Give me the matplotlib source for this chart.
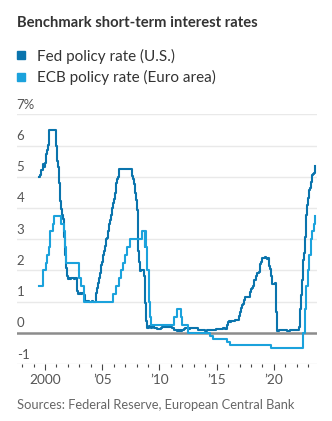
import matplotlib
matplotlib.use("Agg")
import matplotlib.pyplot as plt
import matplotlib.dates as mdates
from matplotlib.lines import Line2D
from matplotlib.transforms import blended_transform_factory, offset_copy
import pandas as pd

# Effective federal funds rate, monthly from July 1999 (percent)
fed_start = "1999-07-01"
fed_rate = [
    4.99, 5.07, 5.22, 5.20, 5.42, 5.30,
    5.45, 5.73, 5.85, 6.02, 6.50, 6.50, 6.50, 6.50, 6.50, 6.50, 6.50, 6.50,
    5.98, 5.49, 5.31, 4.80, 4.21, 3.97, 3.77, 3.65, 3.07, 2.49, 2.09, 1.82,
    1.73, 1.74, 1.73, 1.75, 1.75, 1.75, 1.73, 1.74, 1.75, 1.75, 1.34, 1.24,
    1.24, 1.26, 1.25, 1.26, 1.26, 1.22, 1.01, 1.03, 1.01, 1.01, 1.00, 0.98,
    1.00, 1.01, 1.00, 1.00, 1.00, 1.03, 1.26, 1.43, 1.61, 1.76, 1.93, 2.16,
    2.28, 2.50, 2.63, 2.79, 3.00, 3.04, 3.26, 3.50, 3.62, 3.78, 4.00, 4.16,
    4.29, 4.49, 4.59, 4.79, 4.94, 4.99, 5.24, 5.25, 5.25, 5.25, 5.25, 5.24,
    5.25, 5.26, 5.26, 5.25, 5.25, 5.25, 5.26, 5.02, 4.94, 4.76, 4.49, 4.24,
    3.94, 2.98, 2.61, 2.28, 1.98, 2.00, 2.01, 2.00, 1.81, 0.97, 0.39, 0.16,
    0.15, 0.22, 0.18, 0.15, 0.18, 0.21, 0.16, 0.16, 0.15, 0.12, 0.12, 0.12,
    0.11, 0.13, 0.16, 0.20, 0.20, 0.18, 0.18, 0.19, 0.19, 0.19, 0.19, 0.18,
    0.17, 0.16, 0.14, 0.10, 0.09, 0.09, 0.07, 0.10, 0.08, 0.07, 0.08, 0.07,
    0.08, 0.10, 0.13, 0.14, 0.16, 0.16, 0.16, 0.13, 0.14, 0.16, 0.16, 0.16,
    0.14, 0.15, 0.14, 0.15, 0.11, 0.09, 0.09, 0.08, 0.08, 0.09, 0.08, 0.09,
    0.07, 0.07, 0.08, 0.09, 0.09, 0.10, 0.09, 0.09, 0.09, 0.09, 0.09, 0.12,
    0.11, 0.11, 0.11, 0.12, 0.12, 0.13, 0.13, 0.14, 0.14, 0.12, 0.12, 0.24,
    0.34, 0.38, 0.36, 0.37, 0.37, 0.38, 0.39, 0.40, 0.40, 0.40, 0.41, 0.54,
    0.65, 0.66, 0.79, 0.90, 0.91, 1.04, 1.15, 1.16, 1.15, 1.15, 1.16, 1.30,
    1.41, 1.42, 1.51, 1.69, 1.70, 1.82, 1.91, 1.91, 1.95, 2.19, 2.20, 2.27,
    2.40, 2.40, 2.41, 2.42, 2.39, 2.38, 2.40, 2.13, 2.04, 1.83, 1.55, 1.55,
    1.55, 1.58, 0.65, 0.05, 0.05, 0.08, 0.09, 0.10, 0.09, 0.09, 0.09, 0.09,
    0.09, 0.08, 0.07, 0.07, 0.06, 0.08, 0.10, 0.09, 0.08, 0.08, 0.08, 0.08,
    0.08, 0.08, 0.20, 0.33, 0.77, 1.21, 1.68, 2.33, 2.56, 3.08, 3.78, 4.10,
    4.33, 4.57, 4.65, 4.83, 5.06, 5.08, 5.12, 5.33,
]

# ECB deposit facility rate, dates of change (percent)
ecb_dates = [
    "1999-07-01", "1999-11-05", "2000-02-04", "2000-03-17", "2000-04-28",
    "2000-06-09", "2000-09-01", "2000-10-06", "2001-05-11", "2001-08-31",
    "2001-09-18", "2001-11-09", "2002-12-06", "2003-03-07", "2003-06-06",
    "2005-12-06", "2006-03-08", "2006-06-15", "2006-08-09", "2006-10-11",
    "2006-12-13", "2007-03-14", "2007-06-13", "2008-07-09", "2008-10-08",
    "2008-10-09", "2008-11-12", "2008-12-10", "2009-01-21", "2009-03-11",
    "2009-04-08", "2011-04-13", "2011-07-13", "2011-11-09", "2011-12-14",
    "2012-07-11", "2014-06-11", "2014-09-10", "2015-12-09", "2016-03-16",
    "2019-09-18", "2022-07-27", "2022-09-14", "2022-11-02", "2022-12-21",
    "2023-02-08", "2023-03-22", "2023-05-10", "2023-06-21", "2023-08-02",
]
ecb_rate = [
    1.50, 2.00, 2.25, 2.50, 2.75,
    3.25, 3.50, 3.75, 3.50, 3.25,
    2.75, 2.25, 1.75, 1.50, 1.00,
    1.25, 1.50, 1.75, 2.00, 2.25,
    2.50, 2.75, 3.00, 3.25, 2.75,
    3.25, 2.75, 2.00, 1.00, 0.50,
    0.25, 0.50, 0.75, 0.50, 0.25,
    0.00, -0.10, -0.20, -0.30, -0.40,
    -0.50, 0.00, 0.75, 1.50, 2.00,
    2.50, 3.00, 3.25, 3.50, 3.75,
]

y_ticks = [-1, 0, 1, 2, 3, 4, 5, 6, 7]
y_labels = ["-1", "0", "1", "2", "3", "4", "5", "6", "7%"]
x_years = [2000, 2005, 2010, 2015, 2020]
x_labels = ["2000", "\u201905", "\u201910", "\u201915", "\u201920"]

fed_color = "#0a74ad"
ecb_color = "#1ba2dc"

plt.rcParams["font.family"] = ["Lato", "DejaVu Sans"]

fig = plt.figure(figsize=(3.32, 4.21), dpi=100)
ax = fig.add_axes([0.0503, 0.1354, 0.9036, 0.5931])

fed_dates = pd.date_range(fed_start, periods=len(fed_rate), freq="MS")
ax.plot(fed_dates, fed_rate, color=fed_color, lw=1.5, drawstyle="steps-post", zorder=3)
ax.plot(pd.to_datetime(ecb_dates), ecb_rate, color=ecb_color, lw=1.5,
        drawstyle="steps-post", zorder=3)

ax.set_xlim(pd.Timestamp("1997-07-11"), pd.Timestamp("2023-10-01"))
ax.set_ylim(-1, 7)

# horizontal gridlines, darker at zero
for v in y_ticks:
    if v == 0:
        ax.axhline(v, color="#8c8c8c", lw=1.8, zorder=2)
    else:
        ax.axhline(v, color="#e9e9e9", lw=1.0, zorder=1)

# y labels sit above their gridlines at the left edge
lab_tr = offset_copy(blended_transform_factory(ax.transAxes, ax.transData),
                     fig=fig, x=0, y=2.5, units="points")
for v, s in zip(y_ticks, y_labels):
    ax.text(0.0, v, s, transform=lab_tr, ha="left", va="bottom",
            fontsize=9.5, color="#555555")
ax.set_yticks([])

for s in ax.spines.values():
    s.set_visible(False)

ax.set_xticks([pd.Timestamp(f"{y}-01-01") for y in x_years])
ax.set_xticklabels(x_labels)
ax.xaxis.set_minor_locator(mdates.YearLocator(1))
ax.tick_params(axis="x", which="major", length=4.5, width=0.8, color="#444444",
               pad=3, labelsize=9.8, labelcolor="#555555")
ax.tick_params(axis="x", which="minor", length=2.5, width=0.8, color="#444444")

fig.text(0.051, 1 - 23 / 421, "Benchmark short-term interest rates",
         fontsize=10.6, fontweight="bold", color="#333333", va="center", ha="left")

handles = [Line2D([], [], ls="none", marker="s", markersize=6, color=fed_color),
           Line2D([], [], ls="none", marker="s", markersize=6, color=ecb_color)]
fig.legend(handles, ["Fed policy rate (U.S.)", "ECB policy rate (Euro area)"],
           loc="upper left", bbox_to_anchor=(0.052, 1 - 48.5 / 421),
           frameon=False, fontsize=11, borderpad=0, borderaxespad=0,
           handlelength=0.55, handletextpad=0.75,
           labelspacing=0.42, labelcolor="#333333")

fig.text(0.051, 1 - 405 / 421, "Sources: Federal Reserve, European Central Bank",
         fontsize=9.3, color="#666666", va="center", ha="left")

fig.savefig("out.png", dpi=100)
